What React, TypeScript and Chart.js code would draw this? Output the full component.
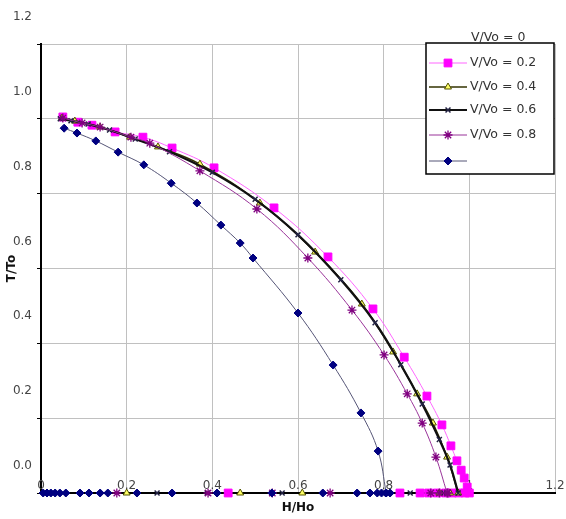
import React, { useEffect, useRef } from 'react';
import { Chart, registerables } from 'chart.js';
import { drawPoint } from 'chart.js/helpers';

Chart.register(...registerables);

// ---------- data ----------
const xTickLabels = ['0', '0.2', '0.4', '0.6', '0.8', '1', '1.2'];
const yTickLabels = ['0.0', '0.2', '0.4', '0.6', '0.8', '1.0', '1.2'];
const legendLabels = ['V/Vo = 0.2', 'V/Vo = 0.4', 'V/Vo = 0.6', 'V/Vo = 0.8', ''];
const extraLegendLabel = 'V/Vo = 0';
const xTitle = 'H/Ho';
const yTitle = 'T/To';

const sqX = [0.051, 0.086, 0.119, 0.173, 0.238, 0.306, 0.404, 0.544, 0.670, 0.775, 0.848, 0.901, 0.936, 0.957, 0.971, 0.981, 0.988, 0.995, 1.0];
const sqY = [1.005, 0.991, 0.983, 0.965, 0.951, 0.922, 0.869, 0.762, 0.631, 0.492, 0.363, 0.259, 0.182, 0.126, 0.086, 0.061, 0.040, 0.016, 0];

const triX = [0.049, 0.079, 0.138, 0.208, 0.273, 0.371, 0.511, 0.640, 0.749, 0.822, 0.878, 0.915, 0.948, 0.974];
const triY = [1.002, 0.994, 0.978, 0.951, 0.925, 0.879, 0.775, 0.644, 0.505, 0.377, 0.265, 0.187, 0.096, 0];

const crX = [0.045, 0.07, 0.11, 0.16, 0.22, 0.30, 0.40, 0.50, 0.60, 0.70, 0.78, 0.84, 0.89, 0.93, 0.955, 0.974];
const crY = [1.0, 0.995, 0.986, 0.970, 0.946, 0.912, 0.857, 0.785, 0.690, 0.570, 0.455, 0.343, 0.238, 0.143, 0.075, 0];

const stX = [0.051, 0.096, 0.138, 0.210, 0.254, 0.371, 0.504, 0.623, 0.726, 0.801, 0.855, 0.890, 0.922, 0.948];
const stY = [1.002, 0.989, 0.978, 0.951, 0.935, 0.861, 0.759, 0.628, 0.489, 0.369, 0.265, 0.187, 0.096, 0];

const dmX = [0.054, 0.084, 0.128, 0.180, 0.240, 0.304, 0.364, 0.420, 0.465, 0.495, 0.600, 0.682, 0.747, 0.787, 0.806];
const dmY = [0.975, 0.962, 0.941, 0.911, 0.877, 0.828, 0.775, 0.716, 0.668, 0.628, 0.481, 0.342, 0.214, 0.112, 0];

// points lying on the H/Ho axis (T/To = 0)
const sqBaseX = [0.437, 0.838, 0.885, 0.905, 0.925, 0.945, 0.96, 0.975, 0.99];
const triBaseX = [0.2, 0.465, 0.61, 0.93, 0.955];
const crBaseX = [0.271, 0.388, 0.563, 0.862, 0.94];
const stBaseX = [0.177, 0.39, 0.54, 0.675, 0.91, 0.93, 0.95];
const dmBaseX = [0.005, 0.014, 0.023, 0.033, 0.044, 0.058, 0.091, 0.112, 0.138, 0.156, 0.224, 0.306, 0.411, 0.539, 0.658, 0.738, 0.768, 0.785, 0.795, 0.805, 0.815];

// ---------- helpers ----------
const pts = (xs: number[], ys: number[]) => xs.map((x, i) => ({ x, y: ys[i] }));
const base = (xs: number[]) => xs.map((x) => ({ x, y: 0 }));

const FONT = '"DejaVu Sans", sans-serif';

const styles = [
  { line: '#ff66ff', lw: 1, pointStyle: 'rect', radius: 5.5, bg: '#ff00ff', border: '#ff00ff', pbw: 1 },
  { line: '#333300', lw: 1.5, pointStyle: 'triangle', radius: 4, bg: '#ffff66', border: '#555500', pbw: 1 },
  { line: '#111111', lw: 2.2, pointStyle: 'crossRot', radius: 3.5, bg: '#222244', border: '#222244', pbw: 1.5 },
  { line: '#993399', lw: 1, pointStyle: 'star', radius: 4.5, bg: '#800080', border: '#800080', pbw: 1.3 },
  { line: '#555577', lw: 1, pointStyle: 'rectRot', radius: 4, bg: '#000080', border: '#000080', pbw: 1 },
];

// x tick labels sit on the axis line, as in the reference
const xLabelPlugin = {
  id: 'xLabelsOnAxis',
  beforeDatasetsDraw(chart: any) {
    const ctx = chart.ctx as CanvasRenderingContext2D;
    const sx = chart.scales.x;
    const y = chart.chartArea.bottom - 7;
    ctx.save();
    ctx.font = `12px ${FONT}`;
    ctx.fillStyle = '#444';
    ctx.textAlign = 'center';
    ctx.textBaseline = 'middle';
    sx.ticks.forEach((t: any, i: number) => {
      ctx.fillText(xTickLabels[i], sx.getPixelForValue(t.value), y);
    });
    ctx.restore();
  },
};

const legendPlugin = {
  id: 'boxLegend',
  afterDraw(chart: any) {
    const ctx = chart.ctx as CanvasRenderingContext2D;
    ctx.save();
    const left = 426, top = 43, right = 554, bottom = 174;
    ctx.fillStyle = '#ffffff';
    ctx.fillRect(left, top, right - left, bottom - top);
    ctx.strokeStyle = '#000';
    ctx.lineWidth = 1.5;
    ctx.strokeRect(left, top, right - left, bottom - top);
    ctx.font = `12.5px ${FONT}`;
    ctx.textBaseline = 'middle';
    ctx.textAlign = 'left';
    ctx.fillStyle = '#333';
    ctx.fillText(extraLegendLabel, 471, 38);
    const rows = [63, 87, 110, 135, 161];
    for (let i = 0; i < 5; i++) {
      const ds = chart.data.datasets[i];
      const y = rows[i];
      ctx.strokeStyle = ds.borderColor;
      ctx.lineWidth = ds.borderWidth;
      ctx.beginPath();
      ctx.moveTo(429, y);
      ctx.lineTo(467, y);
      ctx.stroke();
      ctx.fillStyle = ds.pointBackgroundColor;
      ctx.strokeStyle = ds.pointBorderColor;
      ctx.lineWidth = ds.pointBorderWidth;
      drawPoint(ctx, { pointStyle: ds.pointStyle, radius: ds.pointRadius, rotation: 0, borderWidth: ds.pointBorderWidth } as any, 448, y);
      ctx.fillStyle = '#333';
      ctx.fillText(ds.label, 470, y);
    }
    ctx.restore();
  },
};

export default function App() {
  const ref = useRef<HTMLCanvasElement | null>(null);

  useEffect(() => {
    document.body.style.margin = '0';
    const series = [pts(sqX, sqY), pts(triX, triY), pts(crX, crY), pts(stX, stY), pts(dmX, dmY)];
    const bases = [base(sqBaseX), base(triBaseX), base(crBaseX), base(stBaseX), base(dmBaseX)];
    const datasets: any[] = [];
    series.forEach((data, i) => {
      const s = styles[i];
      datasets.push({
        label: legendLabels[i],
        data,
        showLine: true,
        borderColor: s.line,
        borderWidth: s.lw,
        tension: 0.4,
        pointStyle: s.pointStyle,
        pointRadius: s.radius,
        pointBackgroundColor: s.bg,
        pointBorderColor: s.border,
        pointBorderWidth: s.pbw,
        clip: false,
        order: 5 - i,
      });
    });
    bases.forEach((data, i) => {
      const s = styles[i];
      datasets.push({
        label: '',
        data,
        showLine: false,
        pointStyle: s.pointStyle,
        pointRadius: s.radius,
        pointBackgroundColor: s.bg,
        pointBorderColor: s.border,
        pointBorderWidth: s.pbw,
        clip: false,
        order: 5 - i,
      });
    });

    const chart = new Chart(ref.current!, {
      type: 'scatter',
      data: { datasets },
      plugins: [xLabelPlugin, legendPlugin],
      options: {
        responsive: false,
        animation: false,
        events: [],
        layout: { padding: { left: 0, top: 44, right: 11, bottom: 0 } },
        plugins: { legend: { display: false }, tooltip: { enabled: false } },
        scales: {
          x: {
            type: 'linear',
            min: 0,
            max: 1.2,
            afterFit: (s: any) => { s.height = 26; },
            ticks: {
              stepSize: 0.2,
              display: false,
            },
            grid: { color: '#c0c0c0', lineWidth: 1, drawTicks: false },
            border: { color: '#000', width: 2 },
            title: {
              display: true,
              text: xTitle,
              color: '#111',
              font: { family: FONT, size: 12, weight: 'bold' },
              padding: { top: 0, bottom: 4 },
            },
          },
          y: {
            type: 'linear',
            min: 0,
            max: 1.2,
            afterFit: (s: any) => { s.width = 41; },
            ticks: {
              stepSize: 0.2,
              padding: 5,
              labelOffset: -27,
              color: '#444',
              font: { family: FONT, size: 12 },
              callback: (_v: any, i: number) => yTickLabels[i],
            },
            grid: { color: '#c0c0c0', lineWidth: 1, tickColor: '#000', tickLength: 4 },
            border: { color: '#000', width: 2 },
            title: {
              display: true,
              text: yTitle,
              color: '#111',
              font: { family: FONT, size: 12, weight: 'bold' },
              padding: { top: 5, bottom: 0 },
            },
          },
        },
      },
    } as any);
    return () => chart.destroy();
  }, []);

  return (
    <div style={{ position: 'absolute', left: 0, top: 0, width: 566, height: 519 }}>
      <canvas ref={ref} width={566} height={519} />
    </div>
  );
}
